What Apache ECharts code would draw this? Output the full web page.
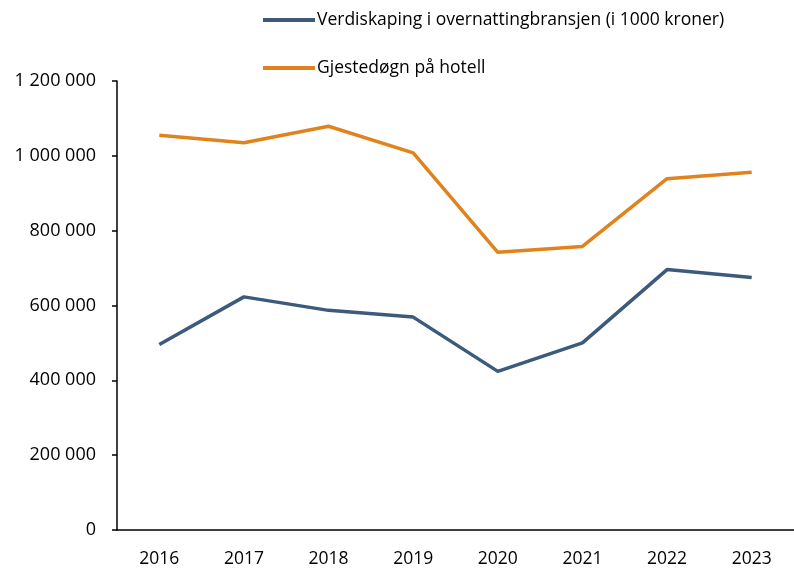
<!DOCTYPE html>
<html>
<head>
<meta charset="utf-8">
<script src="https://cdn.jsdelivr.net/npm/echarts@6/dist/echarts.min.js"></script>
<style>
  html, body { margin: 0; padding: 0; background: #fff; }
  #chart { width: 794px; height: 568px; }
</style>
</head>
<body>
<div id="chart"></div>
<script>
  // 数据
  var years = ['2016', '2017', '2018', '2019', '2020', '2021', '2022', '2023'];
  var verdiskaping = [496000, 623000, 587000, 569000, 424000, 500000, 696000, 675000];
  var gjestedogn = [1055000, 1035000, 1079000, 1008000, 742000, 758000, 939000, 956000];
  var seriesNames = ['Verdiskaping i overnattingbransjen (i 1000 kroner)', 'Gjestedøgn på hotell'];

  var font = '"Open Sans", "Noto Sans", sans-serif';

  function fmt(v) {
    return String(v).replace(/\B(?=(\d{3})+(?!\d))/g, ' ');
  }

  var chart = echarts.init(document.getElementById('chart'), null, { renderer: 'canvas' });

  chart.setOption({
    animation: false,
    backgroundColor: '#fff',
    legend: {
      orient: 'vertical',
      left: 258,
      top: 6,
      itemWidth: 52,
      itemHeight: 4,
      itemGap: 30,
      icon: 'rect',
      textStyle: { color: '#000', fontSize: 17.5, fontFamily: font, padding: [0, 0, 0, -3] },
      data: seriesNames
    },
    grid: { left: 117, right: -3, top: 81, bottom: 37, containLabel: false },
    xAxis: {
      type: 'category',
      data: years,
      boundaryGap: true,
      axisLine: { lineStyle: { color: '#000', width: 1.5 } },
      axisTick: { show: false },
      axisLabel: { color: '#000', fontSize: 17.5, fontFamily: font, margin: 20 }
    },
    yAxis: {
      type: 'value',
      min: 0,
      max: 1200000,
      interval: 200000,
      axisLine: { show: true, lineStyle: { color: '#000', width: 1.5 } },
      axisTick: { show: true, length: 5, lineStyle: { color: '#000', width: 1.5 } },
      splitLine: { show: false },
      axisLabel: { color: '#000', fontSize: 18, fontFamily: font, margin: 21, formatter: fmt }
    },
    series: [
      {
        name: seriesNames[0],
        type: 'line',
        data: verdiskaping,
        symbol: 'none',
        lineStyle: { color: '#3C5A7B', width: 3.5 },
        itemStyle: { color: '#3C5A7B' }
      },
      {
        name: seriesNames[1],
        type: 'line',
        data: gjestedogn,
        symbol: 'none',
        lineStyle: { color: '#E0831E', width: 3.5 },
        itemStyle: { color: '#E0831E' }
      }
    ]
  });
</script>
</body>
</html>
